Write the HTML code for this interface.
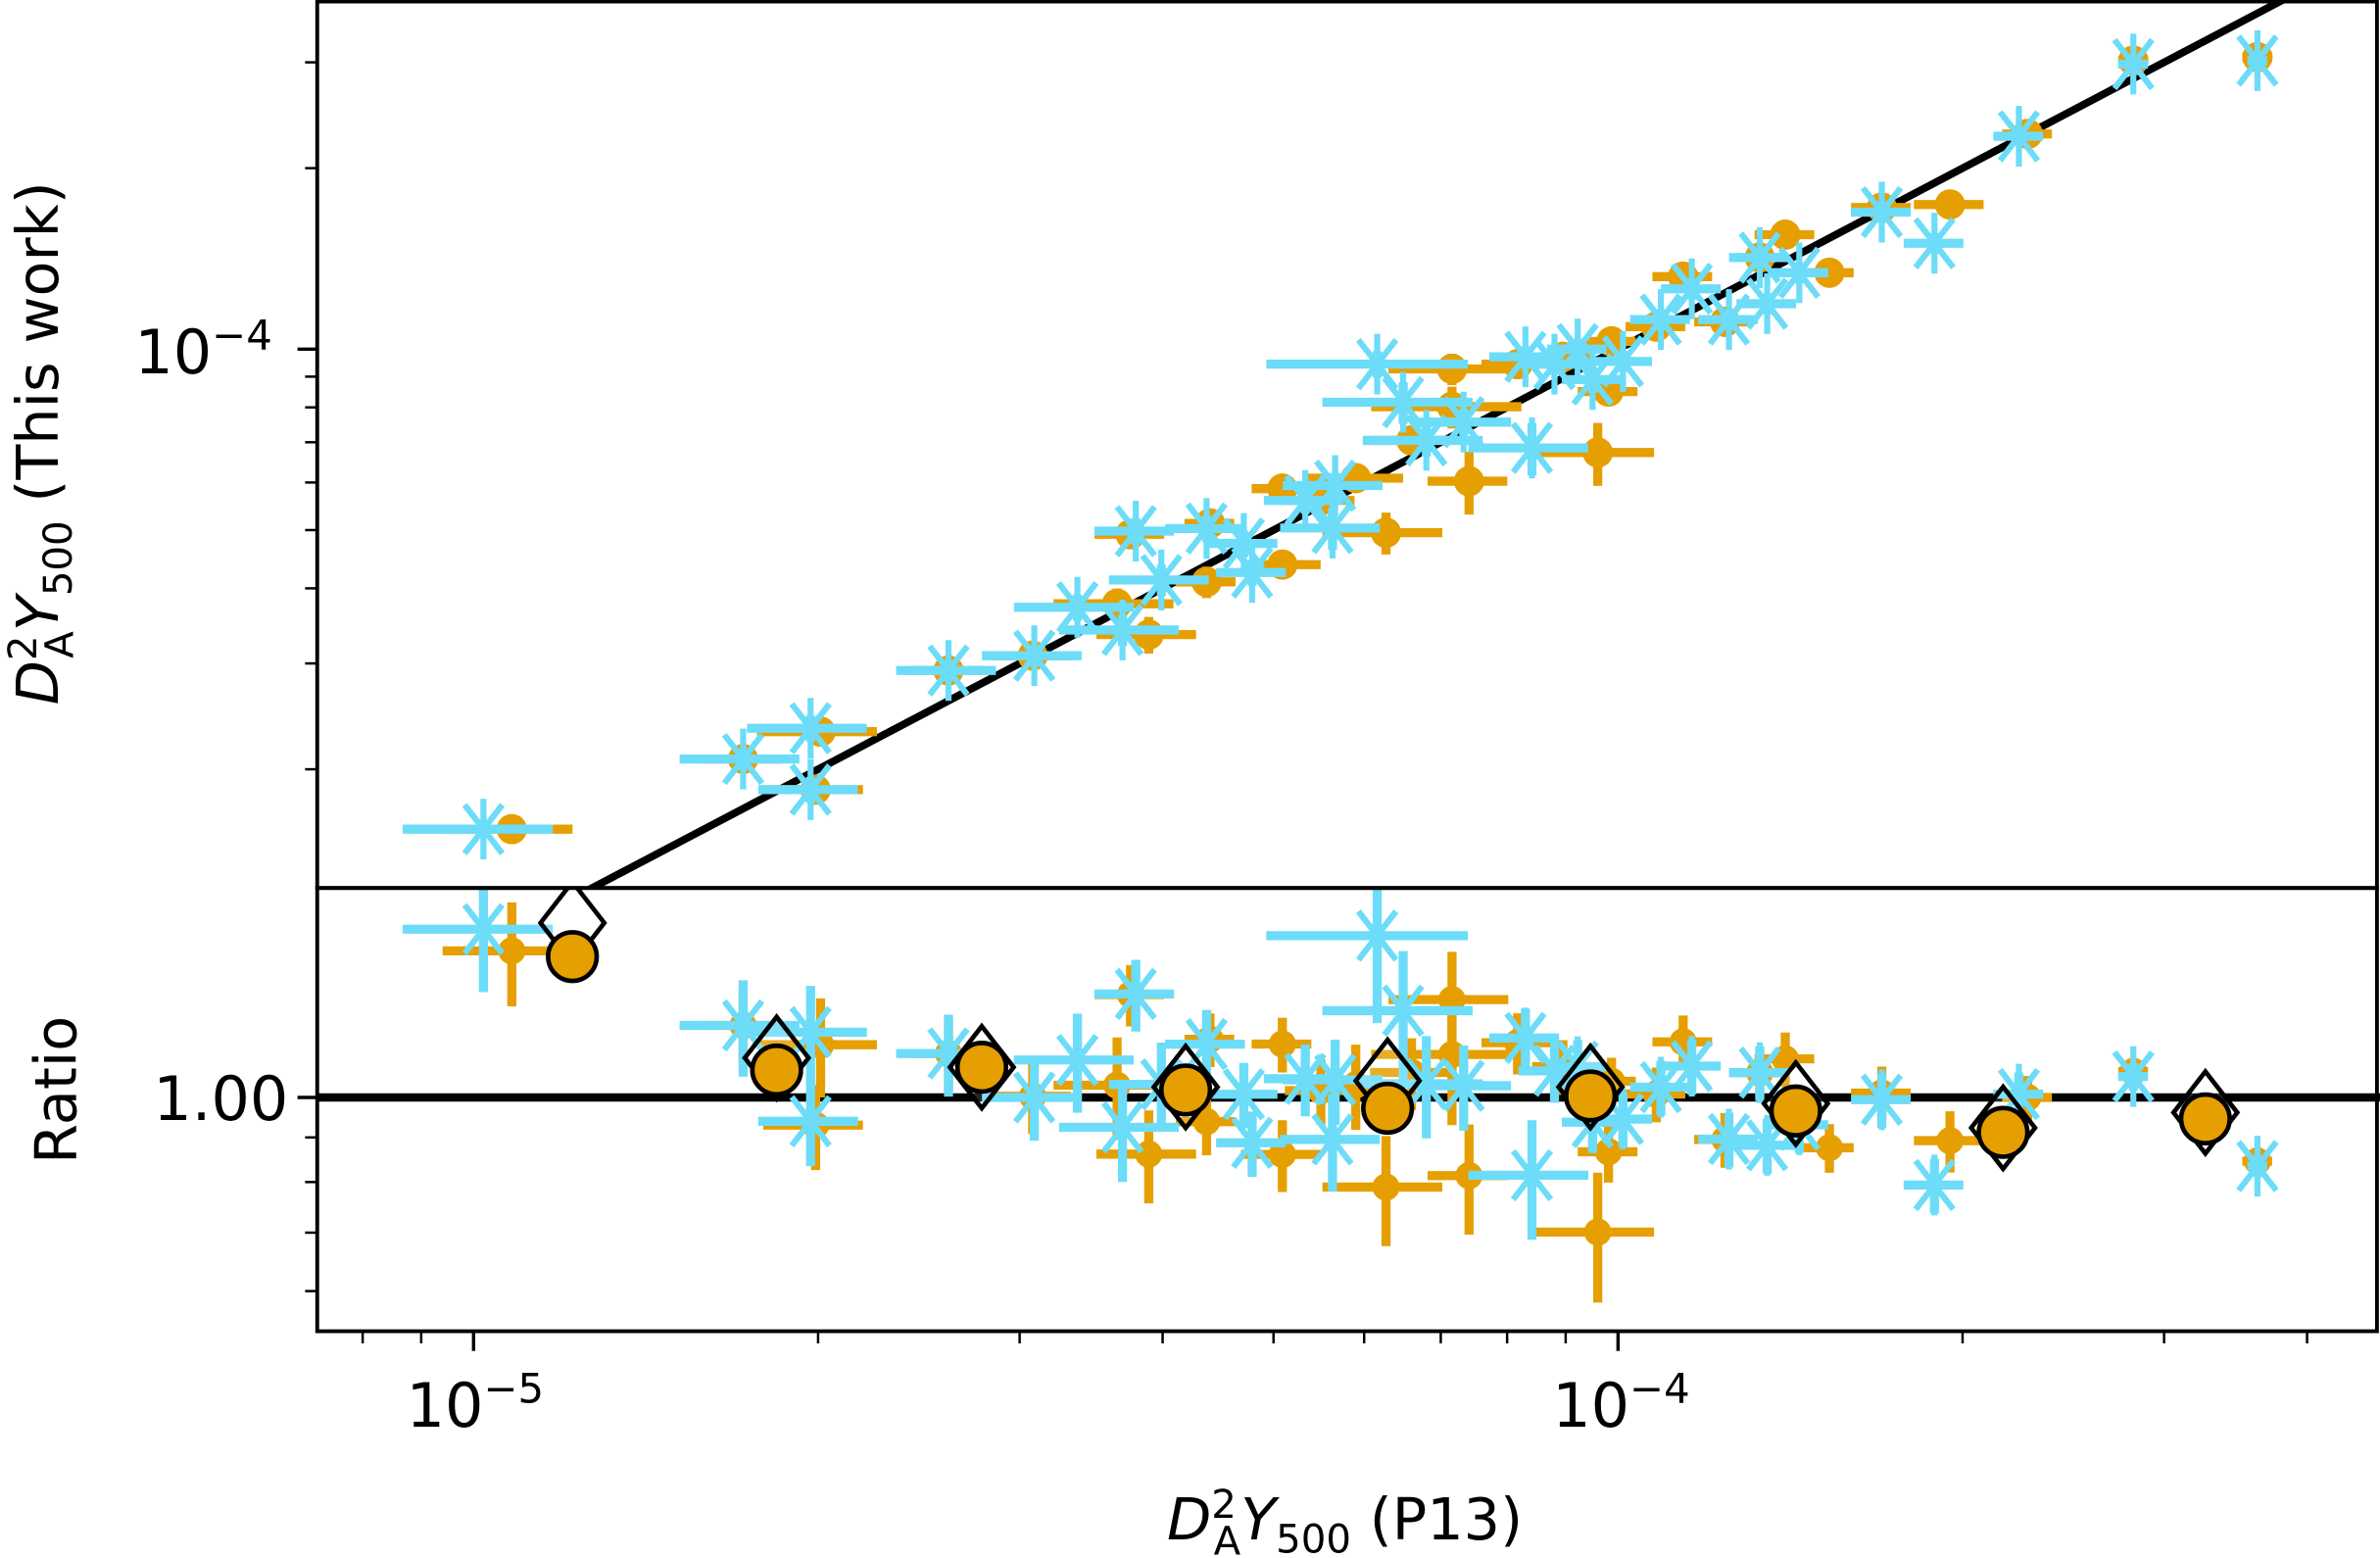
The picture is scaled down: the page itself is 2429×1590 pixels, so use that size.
<!DOCTYPE html>
<html><head><meta charset="utf-8"><style>
html,body{margin:0;padding:0;background:#fff}
svg{display:block}
text{font-family:"DejaVu Sans","Liberation Sans",sans-serif;fill:#000}
</style></head><body>
<svg id="chart" width="2429" height="1590" viewBox="0 0 1568 1026.4" preserveAspectRatio="none" xmlns="http://www.w3.org/2000/svg">
<defs>
<clipPath id="clipTop"><rect x="209" y="0" width="1359" height="585"/></clipPath>
<clipPath id="clipBot"><rect x="209" y="585" width="1359" height="292"/></clipPath>
</defs>
<rect x="0" y="0" width="1568" height="1027" fill="#fff"/>
<g id="topPanel" clip-path="url(#clipTop)"></g>
<g id="botPanel" clip-path="url(#clipBot)"></g>
<g id="axes"></g>
<text x="134" y="246" font-size="40" text-anchor="middle">10<tspan dy="-16" font-size="27">−4</tspan></text>
<text x="190" y="738" font-size="40" text-anchor="end">1.00</text>
<text x="313" y="940" font-size="40" text-anchor="middle">10<tspan dy="-16" font-size="27">−5</tspan></text>
<text x="1068" y="940" font-size="40" text-anchor="middle">10<tspan dy="-16" font-size="27">−4</tspan></text>
<text x="886" y="1014" font-size="38" text-anchor="middle"><tspan font-style="italic">D</tspan><tspan dy="-14" font-size="26">2</tspan><tspan dy="24" dx="-15" font-size="26">A</tspan><tspan dy="-10" font-style="italic">Y</tspan><tspan dy="9" font-size="26">500</tspan><tspan dy="-9"> (P13)</tspan></text>
<text transform="translate(38,292) rotate(-90)" font-size="38" text-anchor="middle"><tspan font-style="italic">D</tspan><tspan dy="-14" font-size="26">2</tspan><tspan dy="24" dx="-15" font-size="26">A</tspan><tspan dy="-10" font-style="italic">Y</tspan><tspan dy="9" font-size="26">500</tspan><tspan dy="-9"> (This work)</tspan></text>
<text transform="translate(50,718) rotate(-90)" font-size="38" text-anchor="middle">Ratio</text>
</svg>
<script>
// values in units of 1e-5
const orangeX = [1.08,1.72,2.01,1.99,2.60,3.08,3.65,3.89,3.75,4.37,4.40,5.09,5.09,6.27,5.90,7.16,7.16,7.41,9.60,8.17,8.95,9.81,10.8,11.4,12.4,13.3,14.0,15.3,17.0,19.5,22.8,28.2,36.2,9.87,6.60,5.50];
const orangeY = [1.59,2.08,2.31,1.85,2.92,3.09,3.77,3.35,4.92,4.10,5.13,4.38,5.86,4.95,6.10,9.27,8.02,6.03,6.73,9.44,9.71,8.50,10.9,13.2,11.1,14.2,15.5,13.4,17.2,17.4,22.8,30.2,30.6,10.3,7.05,5.60];
const orangeXErr = [.13,.08,.12,.10,.08,.08,.12,.10,.07,.06,.05,.08,.06,.12,.10,.12,.15,.08,.12,.07,.06,.06,.06,.06,.06,.05,.06,.05,.06,.07,.05,.03,.03,.05,.08,.07];
const orangeYErr = [.04,.05,.05,.05,.05,.05,.06,.07,.04,.06,.05,.05,.04,.08,.05,.06,.08,.12,.12,.04,.04,.05,.04,.04,.04,.04,.04,.04,.04,.04,.03,.02,.02,.04,.05,.05];
const cyanX = [1.02,1.72,1.97,1.97,2.60,3.09,3.37,3.69,3.79,3.99,4.37,4.71,4.79,5.33,5.63,5.66,6.16,6.49,6.80,7.33,8.41,8.30,8.80,9.22,9.50,10.1,10.9,11.6,12.5,13.3,13.5,14.4,17.0,18.9,22.4,28.2,36.2];
const cyanY = [1.59,2.08,2.34,1.85,2.92,3.09,3.72,3.41,4.98,4.13,5.03,4.75,4.25,5.60,5.04,5.93,9.44,8.16,7.05,7.56,6.85,9.71,9.44,10.0,8.90,9.54,11.2,12.6,11.2,14.2,11.9,13.4,16.9,15.0,22.6,29.8,30.2];
const cyanXErr = [.15,.12,.12,.10,.10,.10,.12,.12,.08,.10,.08,.07,.07,.08,.10,.10,.20,.15,.12,.10,.12,.07,.07,.06,.06,.06,.06,.06,.06,.06,.06,.06,.06,.06,.05,.03,.02];
const cyanYErr = [.03,.04,.05,.05,.04,.04,.05,.06,.05,.06,.05,.05,.05,.05,.08,.05,.05,.08,.06,.05,.10,.04,.04,.04,.05,.04,.04,.04,.04,.04,.04,.04,.04,.04,.03,.02,.02];
const binX = [1.22,1.84,2.78,4.19,6.29,9.46,14.3,21.7,32.6];
const binRatioOrange = [1.45,1.075,1.083,1.02,0.972,1.004,0.965,0.912,0.945];
const binRatioCyan = [1.585,1.11,1.083,1.028,1.045,1.028,0.984,0.923,0.961];
const xMinorTicks = [0.8,0.9,2,3,4,5,6,7,8,9,20,30,40];
const yMinorTicks = [2,3,4,5,6,7,8,9,20,30];
const rMinorTicks = [0.6,0.7,0.8,0.9];

const NS='http://www.w3.org/2000/svg';
const L=Math.log10;
const X=v=>312+754*L(v);
const Y=v=>230-396*L(v/10);
const R=r=>723-575*L(r);
const ORANGE='#E69F00', CYAN='#6CDCF9';
function mk(parent,tag,attrs){const e=document.createElementNS(NS,tag);for(const k in attrs)e.setAttribute(k,attrs[k]);parent.appendChild(e);return e;}
const topG=document.getElementById('topPanel'), botG=document.getElementById('botPanel'), axG=document.getElementById('axes');

let ln=mk(topG,'line',{x1:X(0.5),y1:Y(0.5),x2:X(60),y2:Y(60),stroke:'#000','stroke-width':5});


let rl=mk(botG,'line',{x1:209,y1:R(1),x2:1568,y2:R(1),stroke:'#000','stroke-width':5.5});



function errbar(g,cx,cy,x0,x1,y0,y1,col){
  mk(g,'line',{x1:x0,y1:cy,x2:x1,y2:cy,stroke:col,'stroke-width':6});
  mk(g,'line',{x1:cx,y1:y0,x2:cx,y2:y1,stroke:col,'stroke-width':6});
}
function star(g,cx,cy,s,col){
  mk(g,'line',{x1:cx,y1:cy-s,x2:cx,y2:cy+s,stroke:col,'stroke-width':4});
  const dx=s*0.62,dy=s*0.8;
  mk(g,'line',{x1:cx-dx,y1:cy-dy,x2:cx+dx,y2:cy+dy,stroke:col,'stroke-width':4});
  mk(g,'line',{x1:cx+dx,y1:cy-dy,x2:cx-dx,y2:cy+dy,stroke:col,'stroke-width':4});
}
function drawSeries(xs,ys,xe,ye,col,isStar,prefix){
  for(let i=0;i<xs.length;i++){
    const x=xs[i],y=ys[i],r=y/x,re=Math.sqrt(xe[i]*xe[i]+ye[i]*ye[i]);
    const g=mk(topG,'g',{});
    
    
    errbar(g,X(x),Y(y),X(x*(1-xe[i])),X(x*(1+xe[i])),Y(y*(1-ye[i])),Y(y*(1+ye[i])),col);
    if(isStar) star(g,X(x),Y(y),20,col); else mk(g,'circle',{cx:X(x),cy:Y(y),r:10,fill:col});
    const h=mk(botG,'g',{});
    
    
    errbar(h,X(x),R(r),X(x*(1-xe[i])),X(x*(1+xe[i])),R(r*(1-re)),R(r*(1+re)),col);
    if(isStar) star(h,X(x),R(r),20,col); else mk(h,'circle',{cx:X(x),cy:R(r),r:9,fill:col});
  }
}
drawSeries(orangeX,orangeY,orangeXErr,orangeYErr,ORANGE,false,'orange');
drawSeries(cyanX,cyanY,cyanXErr,cyanYErr,CYAN,true,'cyan');

for(let i=0;i<binX.length;i++){
  const cx=X(binX[i]),dy=R(binRatioCyan[i]);
  const d=mk(botG,'polygon',{points:`${cx},${dy-27} ${cx+21},${dy} ${cx},${dy+27} ${cx-21},${dy}`,fill:'#fff','fill-opacity':0.15,stroke:'#000','stroke-width':3});
  
  
}
for(let i=0;i<binX.length;i++){
  const c=mk(botG,'circle',{cx:X(binX[i]),cy:R(binRatioOrange[i]),r:16,fill:ORANGE,stroke:'#000','stroke-width':3});
  
  
}

let f1=mk(axG,'rect',{x:209,y:1,width:1357,height:584,fill:'none',stroke:'#000','stroke-width':2.5});


let f2=mk(axG,'rect',{x:209,y:585,width:1357,height:292,fill:'none',stroke:'#000','stroke-width':2.5});


[1,10].forEach(v=>{const t=mk(axG,'line',{x1:X(v),y1:877,x2:X(v),y2:890,stroke:'#000','stroke-width':2.2});
  
  });
xMinorTicks.forEach(v=>{const t=mk(axG,'line',{x1:X(v),y1:877,x2:X(v),y2:885,stroke:'#000','stroke-width':1.6});
  
  });
{const t=mk(axG,'line',{x1:196,y1:Y(10),x2:209,y2:Y(10),stroke:'#000','stroke-width':2.2});
  
  }
yMinorTicks.forEach(v=>{const t=mk(axG,'line',{x1:201,y1:Y(v),x2:209,y2:Y(v),stroke:'#000','stroke-width':1.6});
  
  });
{const t=mk(axG,'line',{x1:196,y1:R(1),x2:209,y2:R(1),stroke:'#000','stroke-width':2.2});
  
  }
rMinorTicks.forEach(v=>{const t=mk(axG,'line',{x1:201,y1:R(v),x2:209,y2:R(v),stroke:'#000','stroke-width':1.6});
  
  });
</script>
</body></html>
